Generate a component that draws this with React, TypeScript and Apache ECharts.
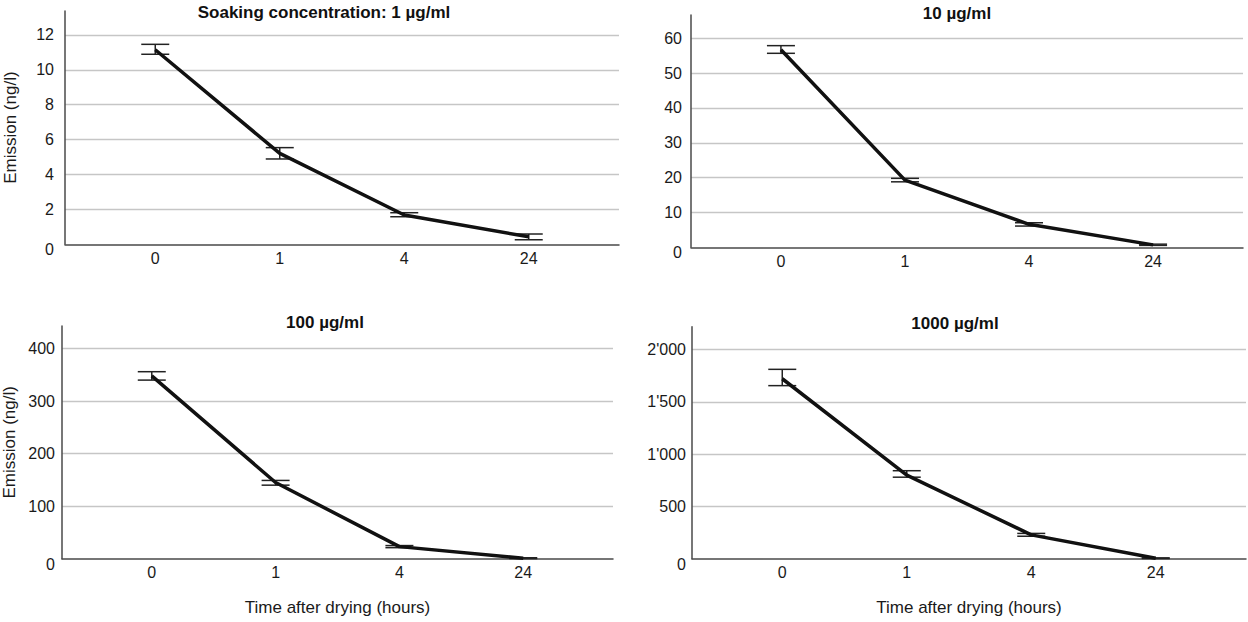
import React, { useEffect, useRef } from "react";
import * as echarts from "echarts";

const hours = ["0", "1", "4", "24"];
const titles = ["Soaking concentration: 1 µg/ml", "10 µg/ml", "100 µg/ml", "1000 µg/ml"];

const mean1 = [11.15, 5.21, 1.68, 0.43];
const low1 = [10.89, 4.89, 1.58, 0.26];
const high1 = [11.46, 5.54, 1.81, 0.59];

const mean10 = [56.7, 19.3, 6.6, 0.7];
const low10 = [55.7, 18.8, 6.1, 0.55];
const high10 = [57.9, 19.8, 7.05, 0.9];

const mean100 = [348, 145, 23, 1];
const low100 = [340, 140, 21, 0.3];
const high100 = [356, 149, 25, 1.8];

const mean1000 = [1722, 800, 228, 5];
const low1000 = [1656, 780, 215, 2];
const high1000 = [1812, 842, 242, 8];

const yMaxes = [13.37, 66.7, 443, 2220];
const yIntervals = [2, 10, 100, 500];

const panels = [
  { mean: mean1, low: low1, high: high1 },
  { mean: mean10, low: low10, high: high10 },
  { mean: mean100, low: low100, high: high100 },
  { mean: mean1000, low: low1000, high: high1000 },
];

const FONT = '"Liberation Sans", Arial, Helvetica, sans-serif';

const grids = [
  { left: 65, top: 11, width: 554, height: 233.3 },
  { left: 691, top: 15, width: 552, height: 232.3 },
  { left: 61.5, top: 326, width: 551.5, height: 232.7 },
  { left: 692, top: 326.7, width: 554, height: 232 },
];
const titlePos = [
  { left: 324, top: 4 },
  { left: 957, top: 5 },
  { left: 325, top: 314 },
  { left: 955, top: 315 },
];
const labelMargins = [11, 9, 7, 6];

function fmtThousands(v: number) {
  const s = String(Math.round(v));
  return s.replace(/\B(?=(\d{3})+(?!\d))/g, "'");
}

export default function App() {
  const ref = useRef<HTMLDivElement>(null);
  useEffect(() => {
    if (!ref.current) return;
    const chart = echarts.init(ref.current, undefined, { renderer: "svg" });

    const xAxis: any[] = [];
    const yAxis: any[] = [];
    const series: any[] = [];
    panels.forEach((p, i) => {
      xAxis.push({
        type: "value",
        gridIndex: i,
        min: -0.725,
        max: 3.725,
        splitLine: { show: false },
        axisTick: { show: false },
        axisLine: { onZero: false, lineStyle: { color: "#4a4a4a", width: 1.5 } },
        axisLabel: {
          customValues: [0, 1, 2, 3],
          formatter: (v: number) => hours[Math.round(v)] ?? "",
          color: "#1a1a1a",
          fontSize: 16,
          fontFamily: FONT,
          margin: 6,
        },
        name: i >= 2 ? "Time after drying (hours)" : "",
        nameLocation: "middle",
        nameGap: 40,
        nameTextStyle: { color: "#1a1a1a", fontSize: 17, fontFamily: FONT },
      });
      yAxis.push({
        type: "value",
        gridIndex: i,
        min: 0,
        max: yMaxes[i],
        interval: yIntervals[i],
        axisTick: { show: false },
        axisLine: { show: true, onZero: false, lineStyle: { color: "#4a4a4a", width: 1.5 } },
        splitLine: { show: true, showMaxLine: false, showMinLine: false, lineStyle: { color: "#c6c6c6", width: 1.3 } },
        axisLabel: {
          showMaxLabel: false,
          color: "#1a1a1a",
          fontSize: 16,
          fontFamily: FONT,
          margin: labelMargins[i],
          formatter: (v: number) => {
            const s = i === 3 ? fmtThousands(v) : String(v);
            return v === 0 ? "{z|" + s + "}" : s;
          },
          rich: {
            z: { color: "#1a1a1a", fontSize: 16, fontFamily: FONT, padding: [11, 0, 0, 0] },
          },
        },
        name: i % 2 === 0 ? "Emission (ng/l)" : "",
        nameLocation: "middle",
        nameGap: i === 0 ? 46 : 44,
        nameTextStyle: { color: "#1a1a1a", fontSize: 17, fontFamily: FONT },
      });
      series.push({
        type: "custom",
        xAxisIndex: i,
        yAxisIndex: i,
        data: hours.map((_, k) => [k, p.low[k], p.high[k]]),
        encode: { x: 0, y: [1, 2] },
        z: 2,
        renderItem: (params: any, api: any) => {
          const x = api.value(0);
          const lo = api.coord([x, api.value(1)]);
          const hi = api.coord([x, api.value(2)]);
          const hw = 14;
          const style = { stroke: "#222", lineWidth: 1.5 };
          return {
            type: "group",
            children: [
              { type: "line", shape: { x1: lo[0], y1: lo[1], x2: hi[0], y2: hi[1] }, style },
              { type: "line", shape: { x1: lo[0] - hw, y1: lo[1], x2: lo[0] + hw, y2: lo[1] }, style },
              { type: "line", shape: { x1: hi[0] - hw, y1: hi[1], x2: hi[0] + hw, y2: hi[1] }, style },
            ],
          };
        },
      });
      series.push({
        type: "line",
        xAxisIndex: i,
        yAxisIndex: i,
        data: p.mean.map((v, k) => [k, v]),
        showSymbol: false,
        symbol: "none",
        z: 3,
        lineStyle: { color: "#111", width: 3.5 },
      });
    });

    chart.setOption({
      animation: false,
      backgroundColor: "#fff",
      title: titles.map((t, i) => ({
        text: t,
        left: titlePos[i].left,
        top: titlePos[i].top,
        textAlign: "center",
        padding: 0,
        textStyle: { fontSize: 17, fontWeight: "bold", color: "#111", fontFamily: FONT },
      })),
      grid: grids,
      xAxis,
      yAxis,
      series,
    });
    return () => chart.dispose();
  }, []);
  return (
    <div
      ref={ref}
      style={{ position: "absolute", left: 0, top: 0, width: 1248, height: 622 }}
    />
  );
}
